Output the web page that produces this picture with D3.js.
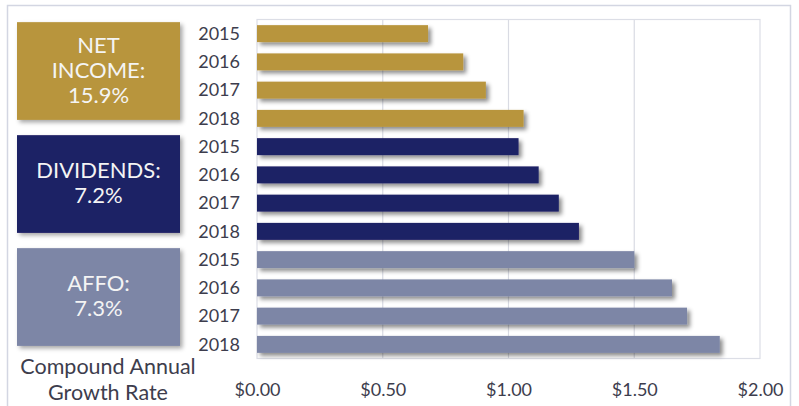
<!DOCTYPE html>
<html>
<head>
<meta charset="utf-8">
<script src="https://cdn.jsdelivr.net/npm/d3@7/dist/d3.min.js"></script>
<style>
  html, body { margin: 0; padding: 0; background: #ffffff; }
  svg { display: block; font-family: Lato, "Open Sans", sans-serif; }
</style>
</head>
<body>
<svg id="chart" width="799" height="406"></svg>
<script>
const years = ["2015", "2016", "2017", "2018"];
const groups = ["NET INCOME", "DIVIDENDS", "AFFO"];
const netIncome = [0.68, 0.82, 0.91, 1.06];
const dividends = [1.04, 1.12, 1.20, 1.28];
const affo = [1.50, 1.65, 1.71, 1.84];
const tickValues = [0, 0.5, 1.0, 1.5, 2.0];
const tickLabels = ["$0.00", "$0.50", "$1.00", "$1.50", "$2.00"];
const boxLabels = [["NET", "INCOME:", "15.9%"], ["DIVIDENDS:", "7.2%"], ["AFFO:", "7.3%"]];
const colors = ["#b8953e", "#1d2165", "#7d86a6"];
const axisTitle = ["Compound Annual", "Growth Rate"];

const seriesValues = [netIncome, dividends, affo];
const rows = [];
seriesValues.forEach((vals, g) => {
  vals.forEach((v, i) => rows.push({ key: g + "-" + years[i], group: g, year: years[i], value: v }));
});

const svg = d3.select("#chart");
const defs = svg.append("defs");
const f = defs.append("filter").attr("id", "shadow").attr("x", "-5%").attr("y", "-30%").attr("width", "115%").attr("height", "180%");
f.append("feDropShadow").attr("dx", 3).attr("dy", 3).attr("stdDeviation", 2).attr("flood-color", "#000").attr("flood-opacity", 0.45);
const f2 = defs.append("filter").attr("id", "boxshadow").attr("x", "-5%").attr("y", "-5%").attr("width", "115%").attr("height", "115%");
f2.append("feDropShadow").attr("dx", 2.5).attr("dy", 2.5).attr("stdDeviation", 2).attr("flood-color", "#000").attr("flood-opacity", 0.35);

// outer frame
svg.append("rect").attr("x", 7.5).attr("y", 5.5).attr("width", 783).attr("height", 420)
  .attr("fill", "none").attr("stroke", "#d3d6e2").attr("stroke-width", 1.5);

const plotLeft = 257, plotRight = 760, plotTop = 19.5, plotBottom = 358.5;

const x = d3.scaleLinear().domain([0, 2]).range([plotLeft, plotRight]);
const y = d3.scaleBand().domain(rows.map(d => d.key)).range([plotTop, plotBottom]).paddingInner(0.4).paddingOuter(0.2);

// gridlines
svg.append("g").selectAll("line").data(tickValues.slice(1, -1)).join("line")
  .attr("x1", d => x(d)).attr("x2", d => x(d))
  .attr("y1", plotTop).attr("y2", plotBottom)
  .attr("stroke", "#d9dbe3").attr("stroke-width", 1.2);

// plot border
svg.append("rect").attr("x", plotLeft).attr("y", plotTop).attr("width", plotRight - plotLeft).attr("height", plotBottom - plotTop)
  .attr("fill", "none").attr("stroke", "#dcdee6").attr("stroke-width", 1.2);

// bars
svg.append("g").selectAll("rect").data(rows).join("rect")
  .attr("x", x(0))
  .attr("y", d => y(d.key))
  .attr("width", d => x(d.value) - x(0))
  .attr("height", y.bandwidth())
  .attr("fill", d => colors[d.group])
  .attr("filter", "url(#shadow)");

// y labels (years)
const yAxis = d3.axisLeft(y).tickSize(0).tickPadding(0).tickFormat(k => k.split("-")[1]);
const yg = svg.append("g").attr("transform", `translate(${plotLeft - 17},0)`).call(yAxis);
yg.select(".domain").remove();
yg.selectAll("text").attr("fill", "#3d3d4d").attr("font-size", 18).attr("font-family", "Lato, sans-serif").attr("dy", "0.35em");

// x axis
const xAxis = d3.axisBottom(x).tickValues(tickValues).tickSize(0).tickPadding(0).tickFormat((d, i) => tickLabels[i]);
const xg = svg.append("g").attr("transform", `translate(0,382)`).call(xAxis);
xg.select(".domain").remove();
xg.selectAll("text").attr("fill", "#3d3d4d").attr("font-size", 18).attr("font-family", "Lato, sans-serif").attr("dy", "0.35em").attr("y", 8);

// group boxes
const boxLeft = 17, boxRight = 180;
groups.forEach((g, gi) => {
  const firstKey = gi + "-" + years[0];
  const lastKey = gi + "-" + years[years.length - 1];
  const top = y(firstKey) - 3;
  const bottom = y(lastKey) + 10;
  svg.append("rect").attr("x", boxLeft).attr("y", top).attr("width", boxRight - boxLeft).attr("height", bottom - top)
    .attr("fill", colors[gi]).attr("filter", "url(#boxshadow)");
  const lines = boxLabels[gi];
  const lh = 25;
  const cy = (top + bottom) / 2 - 1;
  const t = svg.append("text").attr("x", (boxLeft + boxRight) / 2).attr("text-anchor", "middle")
    .attr("fill", "#f4f4f4").attr("font-size", 22).attr("font-family", "Lato, sans-serif");
  lines.forEach((ln, li) => {
    t.append("tspan").attr("x", (boxLeft + boxRight) / 2)
      .attr("y", cy + (li - (lines.length - 1) / 2) * lh)
      .attr("dy", "0.35em").text(ln);
  });
});

// axis title
axisTitle.forEach((ln, i) => {
  svg.append("text").attr("text-anchor", "middle").attr("fill", "#3d3d4d").attr("font-size", 21.5)
    .attr("font-family", "Lato, sans-serif")
    .attr("x", 108).attr("y", 373.5 + i * 26).text(ln);
});
</script>
</body>
</html>
